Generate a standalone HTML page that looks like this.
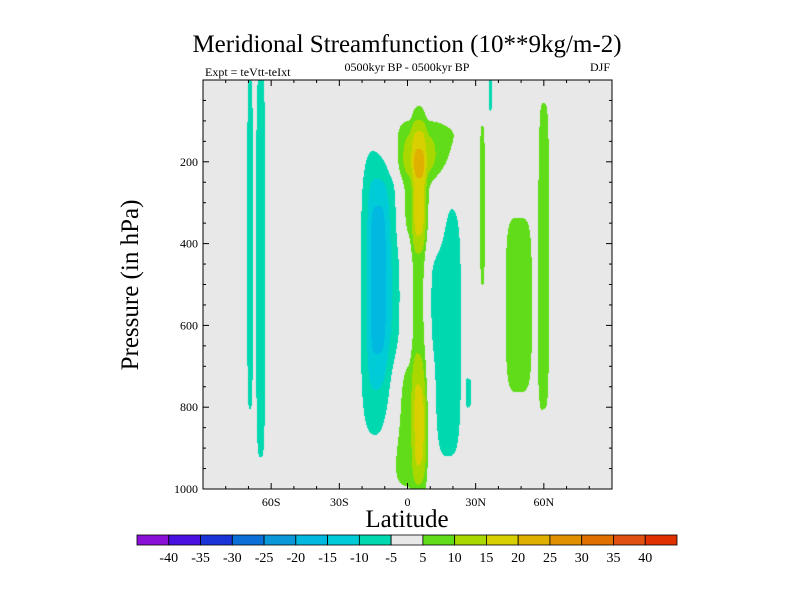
<!DOCTYPE html>
<html><head><meta charset="utf-8">
<style>
html,body{margin:0;padding:0;background:#fff;}
#wrap{position:relative;width:800px;height:600px;overflow:hidden;font-family:"Liberation Serif",serif;}
canvas,svg{position:absolute;left:0;top:0;}
</style></head>
<body>
<div id="wrap">
<canvas id="cv" width="800" height="600"></canvas>
<svg id="sv" width="800" height="600"></svg>
</div>
<script>
// Field features: latitude center, lat half-width, pressure center, pressure half-height, amplitude
const blobLat  = [-69.3,-64.6,-12,-13, 9, 5, 5, 5.5, 1, 6, 17, 33, 49, 60, 27, 36.5];
const blobLatW = [1.6, 2.6, 9, 4, 18, 10, 3.2, 3, 10, 3, 8.5, 1.3, 7.5, 3, 1.3, 0.8];
const blobP    = [400, 450, 520, 480, 165, 270, 520, 290, 845, 860, 615, 310, 550, 430, 765, 30];
const blobPH   = [530, 620, 370, 230, 75, 150, 560, 120, 180, 110, 400, 250, 280, 490, 40, 60];
const blobAmp  = [-7, -7, -11, -7, 7, 7, 7, 4, 8, 4, -7, 7, 7, 7, -7, -7];
const levels = [-40,-35,-30,-25,-20,-15,-10,-5,5,10,15,20,25,30,35,40];
const levelColors = ["#8a10d8","#4a10e0","#1a34d8","#0a70d8","#0a98d8","#00b8e0","#00ccd8","#00d8b0","#e8e8e8","#60dc18","#a8d800","#d8d000","#e0b000","#e09000","#e07000","#e05010","#e03000"];
const xTickVals = [-60,-30,0,30,60];
const xTickLabels = ["60S","30S","0","30N","60N"];
const yTickVals = [200,400,600,800,1000];
const yTickLabels = ["200","400","600","800","1000"];

const PX0=203, PX1=612, PY0=80, PY1=489;
function xs(lat){return PX0+(lat+90)/180*(PX1-PX0);}
function ys(p){return PY0+p/1000*(PY1-PY0);}
function field(lat,p){
  let v=0;
  for(let i=0;i<blobLat.length;i++){
    const dx=(lat-blobLat[i])/blobLatW[i], dy=(p-blobP[i])/blobPH[i];
    const s=dx*dx*dx*dx+dy*dy*dy*dy;
    v+=blobAmp[i]*Math.exp(-s);
  }
  return v;
}
function colorOf(v){let k=0;while(k<levels.length&&v>=levels[k])k++;return levelColors[k];}
const ctx=document.getElementById('cv').getContext('2d');
ctx.fillStyle="#e8e8e8";ctx.fillRect(PX0,PY0,PX1-PX0,PY1-PY0);
for(let x=PX0;x<PX1;x+=1){for(let y=PY0;y<PY1;y+=1){
  const lat=(x+0.5-PX0)/(PX1-PX0)*180-90, p=(y+0.5-PY0)/(PY1-PY0)*1000;
  const v=field(lat,p); if(Math.abs(v)<5)continue;
  ctx.fillStyle=colorOf(v);ctx.fillRect(x,y,1,1);}}

const NS="http://www.w3.org/2000/svg";
const sv=document.getElementById('sv');
function mk(tag,attrs,txt){const e=document.createElementNS(NS,tag);for(const k in attrs)e.setAttribute(k,attrs[k]);if(txt!==undefined)e.textContent=txt;sv.appendChild(e);return e;}
let e;
e=mk('rect',{x:PX0,y:PY0,width:PX1-PX0,height:PY1-PY0,fill:'none',stroke:'#000','stroke-width':1});


for(let lat=-80;lat<=80;lat+=10){const x=xs(lat);const maj=lat%30===0;const L=maj?6:3;
  e=mk('line',{x1:x,y1:PY1,x2:x,y2:PY1-L,stroke:'#000'});
  
  
  e=mk('line',{x1:x,y1:PY0,x2:x,y2:PY0+L,stroke:'#000'});
  
  }
for(let p=50;p<1000;p+=50){const y=ys(p);const maj=p%200===0;const L=maj?6:3;
  e=mk('line',{x1:PX0,y1:y,x2:PX0+L,y2:y,stroke:'#000'});
  
  
  e=mk('line',{x1:PX1,y1:y,x2:PX1-L,y2:y,stroke:'#000'});
  
  }
xTickVals.forEach((v,i)=>{e=mk('text',{x:xs(v),y:PY1+17,'font-size':12,'text-anchor':'middle'},xTickLabels[i]);
  
  });
yTickVals.forEach((v,i)=>{e=mk('text',{x:PX0-5,y:ys(v)+4,'font-size':12,'text-anchor':'end'},yTickLabels[i]);
  
  });
e=mk('text',{x:407,y:52,'font-size':25,'text-anchor':'middle'},'Meridional Streamfunction (10**9kg/m-2)');


e=mk('text',{x:205,y:76,'font-size':12},'Expt = teVtt-teIxt');


e=mk('text',{x:407,y:71,'font-size':12,'text-anchor':'middle'},'0500kyr BP - 0500kyr BP');


e=mk('text',{x:610,y:71,'font-size':12,'text-anchor':'end'},'DJF');


e=mk('text',{x:407,y:527,'font-size':25,'text-anchor':'middle'},'Latitude');


e=mk('text',{x:0,y:0,'font-size':25,'text-anchor':'middle',transform:'translate(138,285) rotate(-90)'},'Pressure (in hPa)');


const CB0=137, CB1=677, CBY=535, CBH=10, bw=(CB1-CB0)/levelColors.length;
levelColors.forEach((c,i)=>{e=mk('rect',{x:CB0+i*bw,y:CBY,width:bw,height:CBH,fill:c,stroke:'#000','stroke-width':0.8});
  
  });
levels.forEach((v,i)=>{e=mk('text',{x:CB0+(i+1)*bw,y:CBY+27,'font-size':14,'text-anchor':'middle'},String(v));
  
  });
</script>
</body></html>
